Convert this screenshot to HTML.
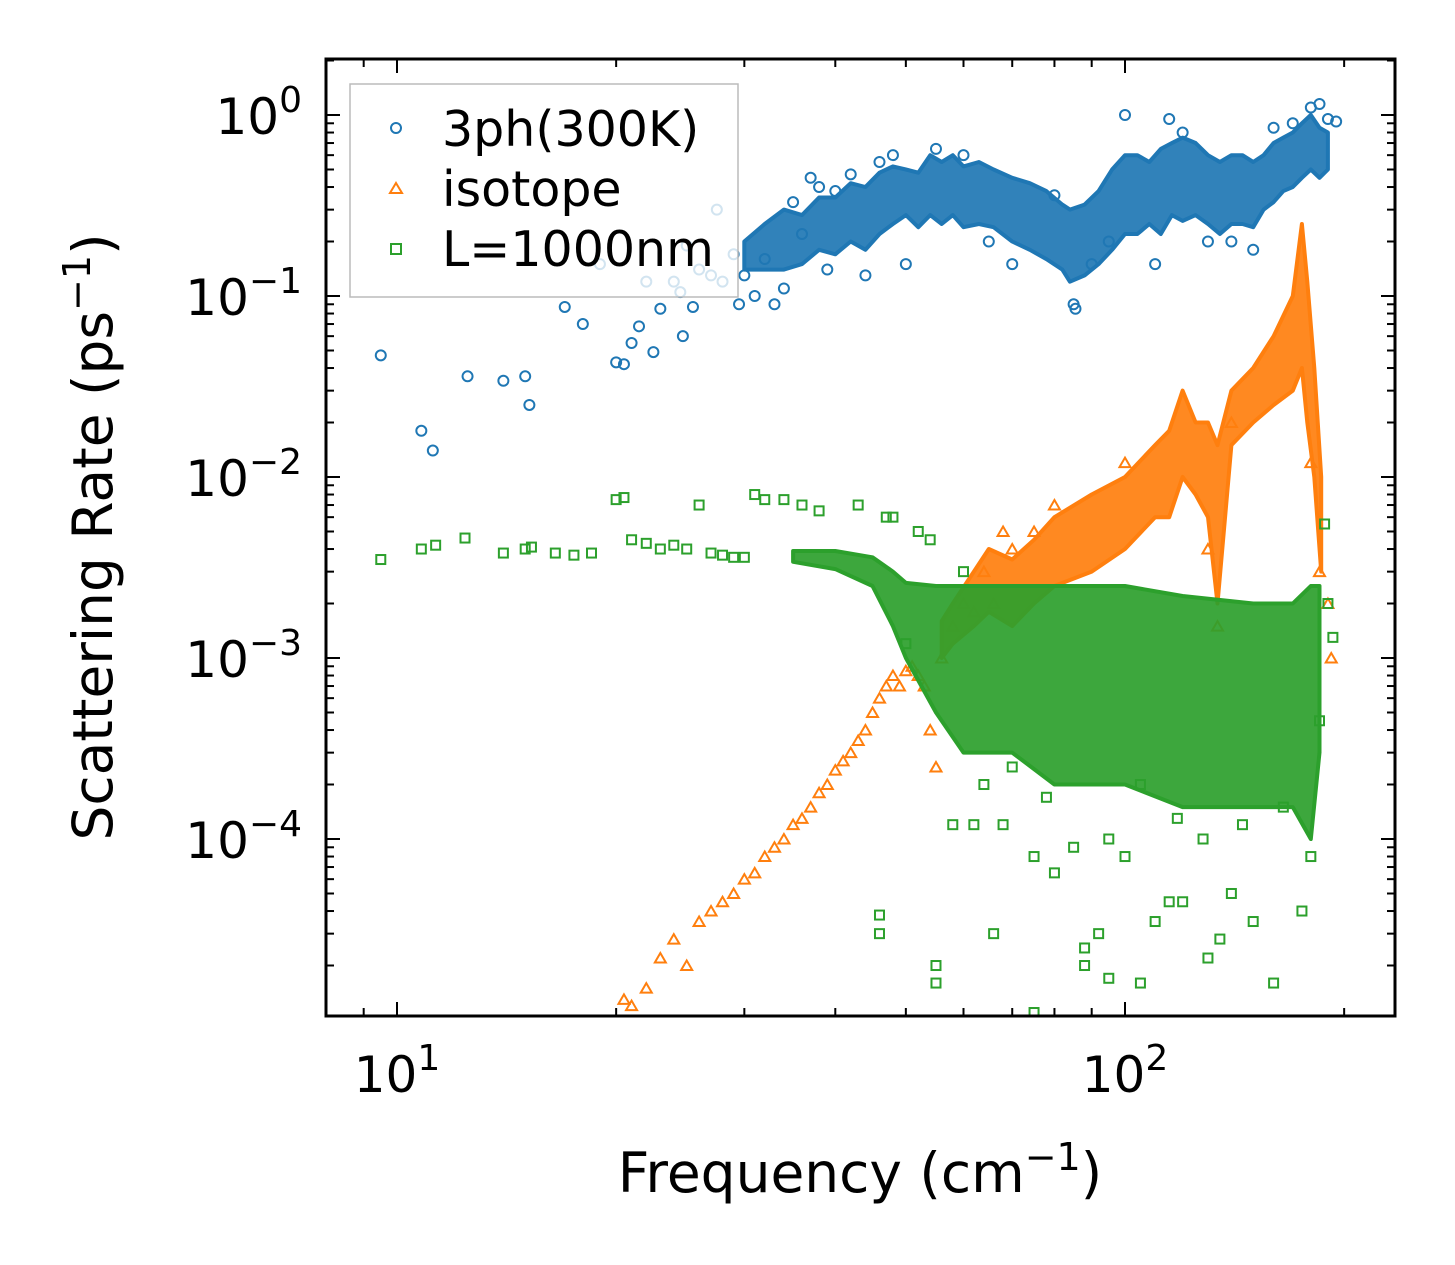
<!DOCTYPE html>
<html><head><meta charset="utf-8"><style>
html,body{margin:0;padding:0;background:#fff;}
svg{display:block;font-family:"DejaVu Sans","Liberation Sans",sans-serif;}
</style></head><body>
<svg id="chart" width="1455" height="1265" viewBox="0 0 1455 1265" xmlns="http://www.w3.org/2000/svg">
<g id="plot"></g>
<rect x="326" y="59" width="1069" height="957" fill="none" stroke="#000" stroke-width="3"/>
<g id="ticks"></g>
<text x="860" y="1192" font-size="55" text-anchor="middle">Frequency (cm<tspan dy="-22" font-size="38">−1</tspan><tspan dy="22">)</tspan></text>
<text transform="translate(112,537) rotate(-90)" font-size="55" text-anchor="middle">Scattering Rate (ps<tspan dy="-22" font-size="38">−1</tspan><tspan dy="22">)</tspan></text>
<g>
<rect x="350" y="84" width="388" height="213" fill="#fff" fill-opacity="0.8" stroke="#bbb" stroke-width="1.5"/>
<circle cx="396" cy="128" r="5" fill="none" stroke="#1f77b4" stroke-width="2"/>
<text x="442" y="146" font-size="49">3ph(300K)</text>
<polygon points="396,183 402,193 390,193" fill="none" stroke="#ff7f0e" stroke-width="2"/>
<text x="442" y="206" font-size="49">isotope</text>
<rect x="391" y="244" width="10" height="10" fill="none" stroke="#2ca02c" stroke-width="2"/>
<text x="442" y="266" font-size="49">L=1000nm</text>
</g>
</svg>
<script>
// ---- data ----
const xTickValues=[10,100];
const xTickLabels=["1","2"];
const yTickValues=[1,0.1,0.01,0.001,0.0001];
const yTickLabels=["0","−1","−2","−3","−4"];
// 3ph scatter
const phFreq=[9.5,10.8,11.2,12.5,14,15,15.2,17,18,19,20,20.5,21,21.5,22,22.5,23,24,24.5,24.7,25,25.5,26,27,27.5,28,29,29.5,30,31,32,33,34,35,36,37,38,39,40,42,44,46,48,50,55,60,65,70,80,85,85.5,90,95,100,110,115,120,130,140,150,160,170,180,185,190,195];
const phRate=[0.047,0.018,0.014,0.036,0.034,0.036,0.025,0.087,0.07,0.15,0.043,0.042,0.055,0.068,0.12,0.049,0.085,0.12,0.105,0.06,0.19,0.087,0.14,0.13,0.3,0.12,0.17,0.09,0.13,0.1,0.16,0.09,0.11,0.33,0.22,0.45,0.4,0.14,0.38,0.47,0.13,0.55,0.6,0.15,0.65,0.6,0.2,0.15,0.36,0.09,0.085,0.15,0.2,1.0,0.15,0.95,0.8,0.2,0.2,0.18,0.85,0.9,1.1,1.15,0.95,0.92];
// 3ph dense band envelope
const phBandF=[30,32,34,36,38,40,42,44,46,48,50,52,54,56,58,60,63,66,70,74,78,82,84,88,92,96,100,104,108,112,116,120,125,130,135,140,145,150,155,160,165,170,175,180,185,190];
const phBandHi=[0.2,0.25,0.3,0.28,0.35,0.35,0.42,0.4,0.48,0.52,0.5,0.48,0.6,0.55,0.6,0.52,0.55,0.5,0.45,0.42,0.38,0.32,0.3,0.32,0.38,0.5,0.6,0.6,0.55,0.65,0.7,0.75,0.7,0.6,0.55,0.6,0.6,0.55,0.6,0.7,0.75,0.8,0.9,1.0,0.85,0.8];
const phBandLo=[0.14,0.14,0.14,0.15,0.18,0.17,0.2,0.18,0.22,0.25,0.28,0.24,0.28,0.25,0.28,0.24,0.25,0.24,0.2,0.18,0.16,0.14,0.12,0.13,0.15,0.18,0.22,0.22,0.25,0.22,0.28,0.26,0.28,0.25,0.22,0.25,0.25,0.24,0.3,0.33,0.38,0.4,0.45,0.5,0.45,0.5];
// isotope scatter
const isoFreq=[20.5,21,22,23,24,25,26,27,28,29,30,31,32,33,34,35,36,37,38,39,40,41,42,43,44,45,46,47,48,49,50,51,52,53,54,55,56,58,60,62,64,66,68,70,75,80,100,130,134,140,180,185,190,192];
const isoRate=[1.3e-5,1.2e-5,1.5e-5,2.2e-5,2.8e-5,2e-5,3.5e-5,4e-5,4.5e-5,5e-5,6e-5,6.5e-5,8e-5,9e-5,1e-4,1.2e-4,1.3e-4,1.5e-4,1.8e-4,2e-4,2.4e-4,2.7e-4,3e-4,3.5e-4,4e-4,5e-4,6e-4,7e-4,8e-4,7e-4,8.5e-4,9e-4,8e-4,7e-4,4e-4,2.5e-4,1e-3,1.5e-3,2e-3,1.8e-3,3e-3,2e-3,5e-3,4e-3,5e-3,7e-3,1.2e-2,4e-3,1.5e-3,2e-2,1.2e-2,3e-3,2e-3,1e-3];
// isotope dense band envelope
const isoBandF=[56,58,62,65,70,75,80,90,100,110,115,120,125,130,134,140,150,160,170,175,178,182,186];
const isoBandHi=[1.6e-3,2e-3,3e-3,4e-3,3.5e-3,4.5e-3,6e-3,8e-3,1e-2,1.5e-2,1.8e-2,3e-2,2e-2,2e-2,1.5e-2,3e-2,4e-2,6e-2,1e-1,2.5e-1,1.2e-1,4e-2,1e-2];
const isoBandLo=[1e-3,1.2e-3,1.5e-3,1.8e-3,1.5e-3,2e-3,2.5e-3,3e-3,4e-3,6e-3,6e-3,1e-2,8e-3,6e-3,2e-3,1.5e-2,2e-2,2.5e-2,3e-2,4e-2,2e-2,1e-2,3e-3];
// boundary (L=1000nm) scatter
const bdFreq=[9.5,10.8,11.3,12.4,14,15,15.3,16.5,17.5,18.5,20,20.5,21,22,23,24,25,26,27,28,29,30,31,32,34,36,38,43,47,48,52,46,46,55,55,58,62,66,68,75,75,80,88,88,92,95,100,105,110,115,120,130,135,140,150,160,175,180,185,188,190,193,50,54,60,64,70,78,85,95,105,118,128,145,165];
const bdRate=[3.5e-3,4e-3,4.2e-3,4.6e-3,3.8e-3,4e-3,4.1e-3,3.8e-3,3.7e-3,3.8e-3,7.5e-3,7.7e-3,4.5e-3,4.3e-3,4e-3,4.2e-3,4e-3,7e-3,3.8e-3,3.7e-3,3.6e-3,3.6e-3,8e-3,7.5e-3,7.5e-3,7e-3,6.5e-3,7e-3,6e-3,6e-3,5e-3,3.8e-5,3e-5,2e-5,1.6e-5,1.2e-4,1.2e-4,3e-5,1.2e-4,8e-5,1.1e-5,6.5e-5,2.5e-5,2e-5,3e-5,1.7e-5,8e-5,1.6e-5,3.5e-5,4.5e-5,4.5e-5,2.2e-5,2.8e-5,5e-5,3.5e-5,1.6e-5,4e-5,8e-5,4.5e-4,5.5e-3,2e-3,1.3e-3,1.2e-3,4.5e-3,3e-3,2e-4,2.5e-4,1.7e-4,9e-5,1e-4,2e-4,1.3e-4,1e-4,1.2e-4,1.5e-4];
// boundary dense band envelope
const bdBandF=[35,40,45,48,50,55,60,70,80,100,120,150,170,180,185];
const bdBandHi=[3.9e-3,3.9e-3,3.6e-3,3e-3,2.6e-3,2.5e-3,2.5e-3,2.5e-3,2.5e-3,2.5e-3,2.2e-3,2e-3,2e-3,2.5e-3,2.5e-3];
const bdBandLo=[3.4e-3,3.1e-3,2.5e-3,1.5e-3,1e-3,5e-4,3e-4,3e-4,2e-4,2e-4,1.5e-4,1.5e-4,1.5e-4,1e-4,3e-4];

// ---- axes ----
const NS="http://www.w3.org/2000/svg";
const X0=397, XDEC=728, Y0=115, YDEC=181;
function xs(v){return X0+(Math.log10(v)-1)*XDEC;}
function ys(v){return Y0-Math.log10(v)*YDEC;}
const plot=document.getElementById('plot');
const ticks=document.getElementById('ticks');
function mk(tag,attrs,parent){const e=document.createElementNS(NS,tag);for(const k in attrs)e.setAttribute(k,attrs[k]);parent.appendChild(e);return e;}

const clip=mk('clipPath',{id:'cp'},plot);
mk('rect',{x:326,y:59,width:1069,height:957},clip);
const pg=mk('g',{'clip-path':'url(#cp)'},plot);

function band(F,H,L,color,name){
  let pts=[];
  for(let i=0;i<F.length;i++)pts.push(xs(F[i]).toFixed(1)+','+ys(H[i]).toFixed(1));
  for(let i=F.length-1;i>=0;i--)pts.push(xs(F[i]).toFixed(1)+','+ys(L[i]).toFixed(1));
  const p=mk('polygon',{points:pts.join(' '),fill:color,'fill-opacity':0.92,stroke:color,'stroke-width':4,'stroke-linejoin':'round'},pg);
  
  
}
function circles(F,R,name){
  for(let i=0;i<F.length;i++){
    const c=mk('circle',{cx:xs(F[i]),cy:ys(R[i]),r:5,fill:'none',stroke:'#1f77b4','stroke-width':2},pg);
    
    
  }
}
function tris(F,R,name){
  for(let i=0;i<F.length;i++){
    const x=xs(F[i]),y=ys(R[i]);
    const t=mk('polygon',{points:`${x},${y-5} ${x+5.5},${y+4.5} ${x-5.5},${y+4.5}`,fill:'none',stroke:'#ff7f0e','stroke-width':2},pg);
    
    
  }
}
function squares(F,R,name){
  for(let i=0;i<F.length;i++){
    const s=mk('rect',{x:xs(F[i])-4.5,y:ys(R[i])-4.5,width:9,height:9,fill:'none',stroke:'#2ca02c','stroke-width':2},pg);
    
    
  }
}
band(phBandF,phBandHi,phBandLo,'#1f77b4','3ph-band');
circles(phFreq,phRate,'3ph-point');
band(isoBandF,isoBandHi,isoBandLo,'#ff7f0e','isotope-band');
tris(isoFreq,isoRate,'isotope-point');
band(bdBandF,bdBandHi,bdBandLo,'#2ca02c','boundary-band');
squares(bdFreq,bdRate,'boundary-point');

// ticks
const TOP=59,BOT=1016,LEFT=326,RIGHT=1395;
for(let d=0;d<=2;d++){
  for(let m=1;m<=9;m++){
    const v=m*Math.pow(10,d);
    const x=xs(v); if(x<LEFT||x>RIGHT)continue;
    const len=(m===1)?14:8;
    mk('line',{x1:x,y1:BOT,x2:x,y2:BOT-len,stroke:'#000','stroke-width':2},ticks);
    mk('line',{x1:x,y1:TOP,x2:x,y2:TOP+len,stroke:'#000','stroke-width':2},ticks);
  }
}
for(let d=-5;d<=0;d++){
  for(let m=1;m<=9;m++){
    const v=m*Math.pow(10,d);
    const y=ys(v); if(y<TOP||y>BOT)continue;
    const len=(m===1)?14:8;
    mk('line',{x1:LEFT,y1:y,x2:LEFT+len,y2:y,stroke:'#000','stroke-width':2},ticks);
    mk('line',{x1:RIGHT,y1:y,x2:RIGHT-len,y2:y,stroke:'#000','stroke-width':2},ticks);
  }
}
for(let i=0;i<xTickValues.length;i++){
  const t=mk('text',{x:xs(xTickValues[i]),y:1092,'font-size':50,'text-anchor':'middle'},ticks);
  
  
  t.innerHTML='10<tspan dy="-22" font-size="36">'+xTickLabels[i]+'</tspan>';
}
for(let i=0;i<yTickValues.length;i++){
  const t=mk('text',{x:302,y:ys(yTickValues[i])+19,'font-size':50,'text-anchor':'end'},ticks);
  
  
  t.innerHTML='10<tspan dy="-22" font-size="36">'+yTickLabels[i]+'</tspan>';
}
</script>
</body></html>
